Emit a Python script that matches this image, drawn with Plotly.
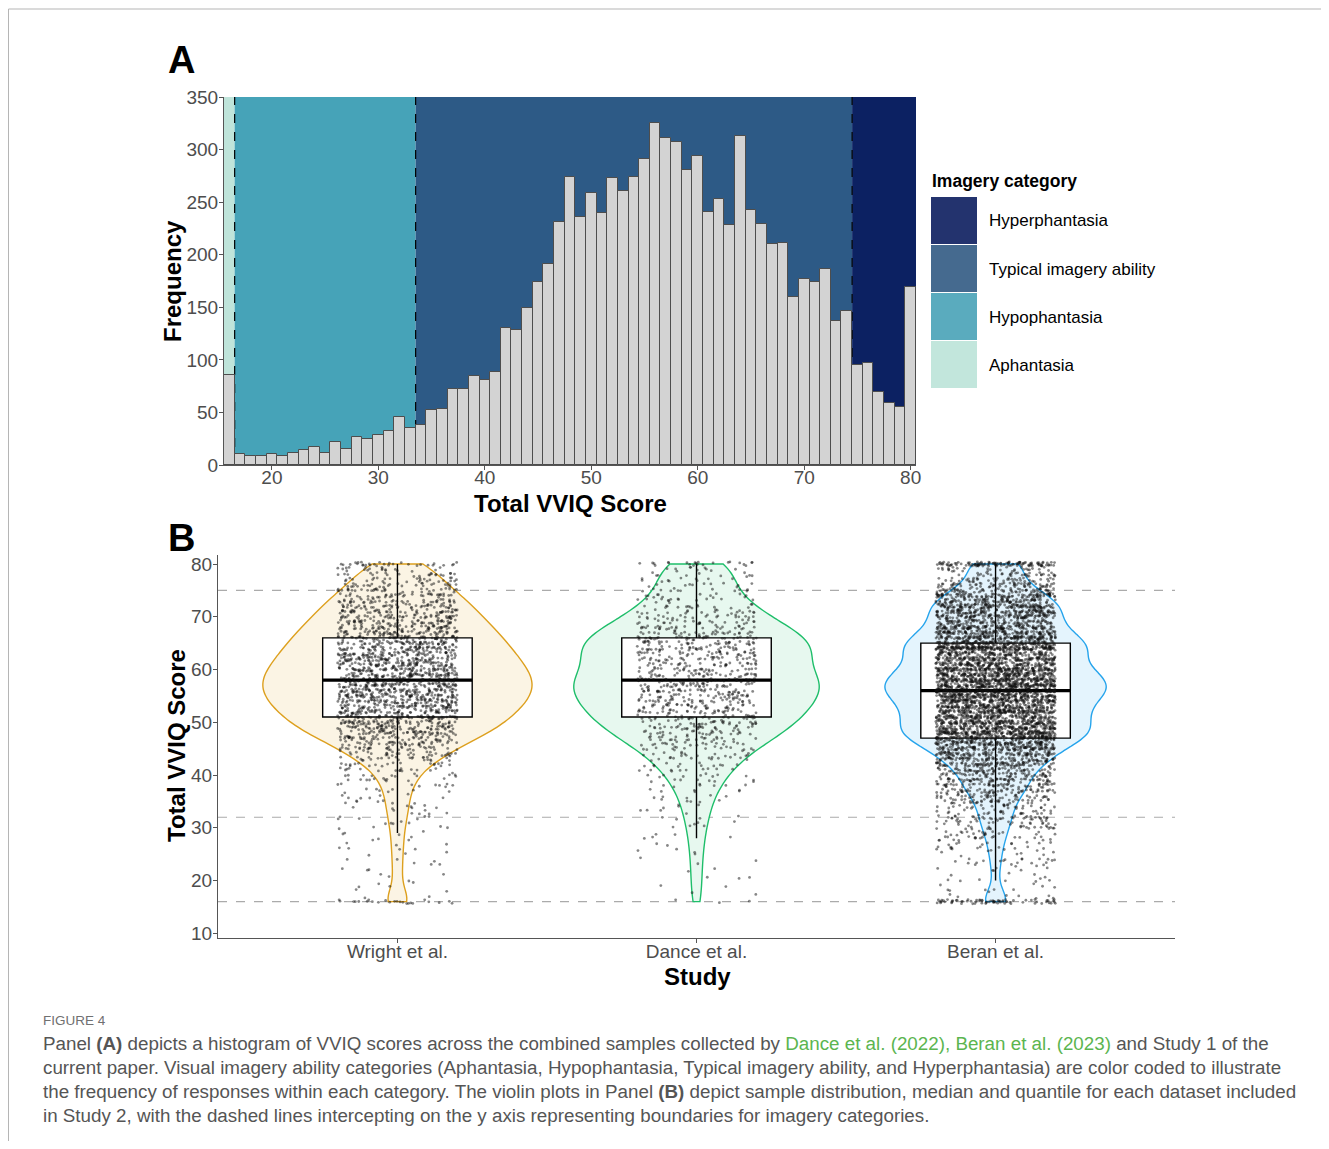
import numpy as np
import plotly.graph_objects as go

# ---------------- data ----------------
scores = list(range(16, 81))

hist_counts = [86, 10, 9, 9, 10, 9, 11, 14, 17, 11,
               22, 15, 27, 25, 29, 32, 46, 35, 38, 52,
               53, 72, 72, 85, 81, 88, 130, 128, 149, 174,
               191, 231, 274, 236, 259, 240, 273, 261, 274, 291,
               325, 311, 307, 281, 294, 241, 253, 228, 313, 243,
               229, 210, 211, 160, 177, 174, 186, 137, 146, 95,
               97, 69, 59, 55, 169]

category_names = ["Aphantasia", "Hypophantasia", "Typical imagery ability", "Hyperphantasia"]
category_edges = [15.5, 16.5, 33.5, 74.5, 80.5]
band_colors = ["#BFE4DA", "#46A3B8", "#2D5A86", "#0C2162"]
legend_colors = ["#C2E6DC", "#5AABBE", "#456A8F", "#23336E"]

studies = ["Wright et al.", "Dance et al.", "Beran et al."]
study_positions = [1, 2, 3]

wright_counts = [24, 2, 2, 3, 2, 3, 3, 3, 3, 3,
                 4, 3, 4, 4, 4, 5, 6, 6, 7, 7,
                 7, 8, 9, 11, 12, 15, 19, 24, 29, 34,
                 40, 47, 54, 60, 63, 67, 70, 73, 76, 78,
                 80, 80, 80, 78, 76, 74, 72, 69, 66, 64,
                 62, 59, 56, 52, 50, 47, 44, 41, 37, 34,
                 30, 26, 22, 19, 30]

dance_counts = [3, 1, 1, 2, 1, 2, 2, 1, 2, 2,
                2, 2, 3, 2, 3, 3, 4, 4, 4, 5,
                5, 6, 7, 8, 9, 10, 12, 13, 15, 17,
                20, 23, 26, 28, 29, 31, 33, 34, 34, 35,
                37, 39, 39, 35, 31, 30, 32, 35, 36, 36,
                34, 30, 27, 24, 22, 19, 16, 14, 13, 12,
                11, 10, 10, 10, 22]

beran_counts = [71, 7, 6, 4, 7, 4, 6, 10, 12, 6,
                16, 10, 20, 19, 22, 24, 36, 25, 27, 40,
                39, 56, 53, 63, 58, 59, 94, 86, 100, 119,
                127, 158, 192, 148, 167, 142, 170, 154, 164, 179,
                210, 195, 191, 168, 185, 134, 147, 125, 213, 148,
                139, 126, 134, 90, 112, 115, 133, 89, 103, 66,
                62, 42, 33, 29, 118]

box_q1 = [51, 51, 47]
box_median = [58, 58, 56]
box_q3 = [66, 66, 65]
box_lower = [29, 28, 20]
box_upper = [80, 80, 80]

cutoffs = [16, 32, 75]

hist_ticks = [20, 30, 40, 50, 60, 70, 80]
freq_ticks = [0, 50, 100, 150, 200, 250, 300, 350]
vviq_ticks = [10, 20, 30, 40, 50, 60, 70, 80]

# ---------------- styles ----------------
W, H = 1329, 1149          # window size
M = 8                      # page body margin
FW, FH = W - 2 * M, H - 2 * M
FONT = "Liberation Sans, Arial, sans-serif"
line_cols = ["#DDA01E", "#1EBE6A", "#26A4EC"]
fill_cols = ["#FBF4E4", "#E7F8EF", "#E4F4FD"]
violin_widths = [0.9, 0.82, 0.74]


def fx(p):
    return (p - M) / FW


def fy(p):
    return 1 - (p - M) / FH


def bw_nrd0(v):
    sd = np.std(v, ddof=1)
    q75, q25 = np.percentile(v, [75, 25])
    lo = min(sd, (q75 - q25) / 1.34)
    return 0.9 * lo * len(v) ** -0.2


def hash01(k, seed):
    # deterministic hash used only for the jitter of point positions
    return np.modf(np.abs(np.sin(k * 12.9898 + seed * 78.233)) * 43758.5453)[0]


fig = go.Figure()

# Panel A histogram
fig.add_trace(go.Bar(
    x=scores, y=hist_counts, width=1,
    marker=dict(color="#D3D3D3", line=dict(color="#4D4D4D", width=1)),
    xaxis="x", yaxis="y", showlegend=False,
))

# Panel B
study_counts = [wright_counts, dance_counts, beran_counts]
samples = [np.repeat(scores, c).astype(float) for c in study_counts]

for i in range(3):
    fig.add_trace(go.Violin(
        y=samples[i], x0=study_positions[i], width=violin_widths[i],
        name=studies[i], orientation="v",
        line=dict(color=line_cols[i], width=1.4), fillcolor=fill_cols[i],
        points=False, spanmode="hard", bandwidth=bw_nrd0(samples[i]),
        scalemode="width", box_visible=False, meanline_visible=False,
        xaxis="x2", yaxis="y2", showlegend=False, hoverinfo="skip",
    ))

for i in range(3):
    fig.add_trace(go.Box(
        x=[study_positions[i]], q1=[box_q1[i]], median=[box_median[i]], q3=[box_q3[i]],
        lowerfence=[box_lower[i]], upperfence=[box_upper[i]],
        width=0.5, whiskerwidth=0, fillcolor="white",
        line=dict(color="black", width=1.4), boxpoints=False,
        xaxis="x2", yaxis="y2", showlegend=False, name=studies[i],
    ))

# thicker median line
for i in range(3):
    fig.add_trace(go.Box(
        x=[study_positions[i]], q1=[box_median[i]], median=[box_median[i]], q3=[box_median[i]],
        lowerfence=[box_median[i]], upperfence=[box_median[i]],
        width=0.5, whiskerwidth=0, fillcolor="rgba(0,0,0,0)",
        line=dict(color="black", width=3.2), boxpoints=False,
        xaxis="x2", yaxis="y2", showlegend=False, name=studies[i], hoverinfo="skip",
    ))

# jittered points (position jitter like geom_jitter: width 0.2, height 0.4)
for i in range(3):
    v = samples[i]
    k = np.arange(1, len(v) + 1) + 10000 * i
    u = hash01(k, 1.0)
    w = hash01(k, 2.0)
    xs = study_positions[i] + (u - 0.5) * 0.4
    ys = v + (w - 0.5) * 0.8
    fig.add_trace(go.Scatter(
        x=xs, y=ys, mode="markers",
        marker=dict(size=2.8, color="rgba(15,15,15,0.5)"),
        xaxis="x2", yaxis="y2", showlegend=False, hoverinfo="skip",
    ))

# ---------------- shapes ----------------
shapes = []
for j in range(4):
    shapes.append(dict(type="rect", xref="x", yref="y domain",
                       x0=category_edges[j], x1=category_edges[j + 1], y0=0, y1=1,
                       fillcolor=band_colors[j], line=dict(width=0), layer="below"))
for e in category_edges[1:-1]:
    shapes.append(dict(type="line", xref="x", yref="y domain", x0=e, x1=e, y0=0, y1=1,
                       line=dict(color="black", width=1.2, dash="dash"), layer="below"))
for c in cutoffs:
    shapes.append(dict(type="line", xref="x2 domain", yref="y2", x0=0, x1=1, y0=c, y1=c,
                       line=dict(color="#ABABAB", width=1.2, dash="dash"), layer="below"))

# custom legend keys
leg_order = [3, 2, 1, 0]
for r, j in enumerate(leg_order):
    top = 197 + 48 * r
    shapes.append(dict(type="rect", xref="paper", yref="paper",
                       x0=fx(931), x1=fx(977), y0=fy(top + 47), y1=fy(top),
                       fillcolor=legend_colors[j], line=dict(width=0)))

# outer frame
shapes.append(dict(type="line", xref="paper", yref="paper", x0=fx(8.5), x1=1, y0=fy(9), y1=fy(9),
                   line=dict(color="#B5B5B5", width=1)))
shapes.append(dict(type="line", xref="paper", yref="paper", x0=fx(8.5), x1=fx(8.5), y0=fy(9), y1=0,
                   line=dict(color="#B5B5B5", width=1)))

# ---------------- annotations ----------------
ann = []


def add_text(text, x, y, size, color="black", xanchor="center", angle=0, bold=False):
    ann.append(dict(text=("<b>%s</b>" % text) if bold else text, x=fx(x), y=fy(y),
                    xref="paper", yref="paper", xanchor=xanchor, yanchor="middle",
                    showarrow=False, textangle=angle,
                    font=dict(family=FONT, size=size, color=color)))


add_text("A", 166, 60, 38, xanchor="left", bold=True)
add_text("B", 166, 538, 38, xanchor="left", bold=True)
add_text("Frequency", 172, 281, 24, angle=-90, bold=True)
add_text("Total VVIQ Score", 570, 503, 24, bold=True)
add_text("Total VVIQ Score", 176, 746, 24, angle=-90, bold=True)
add_text("Study", 697, 976, 24, bold=True)
add_text("Imagery category", 930, 181, 17.5, xanchor="left", bold=True)
for r, j in enumerate(leg_order):
    add_text(category_names[j], 987, 221 + 48.3 * r, 17, xanchor="left")

add_text("FIGURE 4", 41, 1020, 13.5, color="#707070", xanchor="left")
GREEN = "#5BB54F"
cap_lines = [
    'Panel <b>(A)</b> depicts a histogram of VVIQ scores across the combined samples collected by '
    '<span style="color:%s">Dance et al. (2022), Beran et al. (2023)</span> and Study 1 of the' % GREEN,
    'current paper. Visual imagery ability categories (Aphantasia, Hypophantasia, Typical imagery ability, '
    'and Hyperphantasia) are color coded to illustrate',
    'the frequency of responses within each category. The violin plots in Panel <b>(B)</b> depict sample '
    'distribution, median and quantile for each dataset included',
    'in Study 2, with the dashed lines intercepting on the y axis representing boundaries for imagery categories.',
]
for r, t in enumerate(cap_lines):
    add_text(t, 41, 1043 + 24 * r, 18.8, color="#555555", xanchor="left")

axis_common = dict(showline=True, linecolor="#555555", linewidth=1, ticks="outside",
                   ticklen=4, tickcolor="#555555", showgrid=False, zeroline=False,
                   automargin=False,
                   tickfont=dict(family=FONT, size=19, color="#4D4D4D"))

fig.update_layout(
    width=FW, height=FH,
    margin=dict(l=0, r=0, t=0, b=0, pad=0, autoexpand=False),
    paper_bgcolor="white", plot_bgcolor="white",
    showlegend=False, bargap=0,
    boxmode="overlay", violinmode="overlay",
    font=dict(family=FONT),
    xaxis=dict(domain=[fx(224), fx(916)], range=[15.5, 80.5], anchor="y",
               tickvals=hist_ticks, ticklabelstandoff=-9, **axis_common),
    yaxis=dict(domain=[fy(465), fy(97)], range=[0, 350], anchor="x",
               tickvals=freq_ticks, ticklabelstandoff=-3, **axis_common),
    xaxis2=dict(domain=[fx(218), fx(1175)], range=[0.4, 3.6], anchor="y2", type="linear",
                tickvals=study_positions, ticktext=studies, ticklabelstandoff=-8, **axis_common),
    yaxis2=dict(domain=[fy(938), fy(555)], range=[9.11, 81.71], anchor="x2",
                tickvals=vviq_ticks, ticklabelstandoff=-3, **axis_common),
    shapes=shapes,
    annotations=ann,
)

fig.write_html("out.html")
